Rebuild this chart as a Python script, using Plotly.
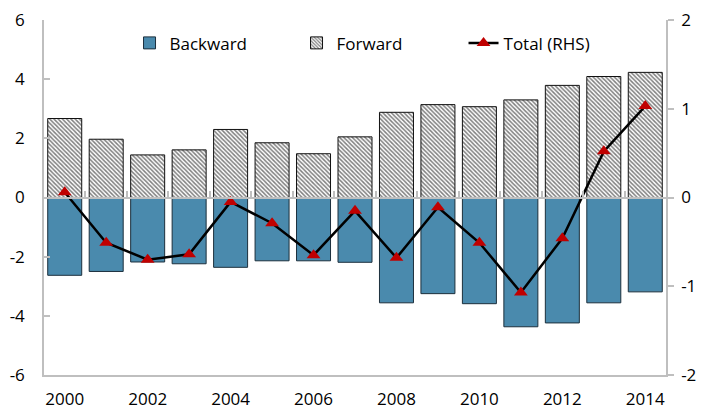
import plotly.graph_objects as go

years = list(range(2000, 2015))
backward = [-2.63, -2.50, -2.18, -2.24, -2.36, -2.14, -2.14, -2.19,
            -3.56, -3.25, -3.59, -4.37, -4.24, -3.56, -3.19]
forward = [2.67, 1.97, 1.44, 1.61, 2.30, 1.85, 1.48, 2.05,
           2.88, 3.14, 3.07, 3.30, 3.79, 4.09, 4.23]
total_rhs = [0.06, -0.51, -0.70, -0.64, -0.05, -0.29, -0.65, -0.15,
             -0.68, -0.11, -0.51, -1.07, -0.46, 0.52, 1.03]
x_tick_labels = [str(y) for y in range(2000, 2015, 2)]
left_ticks = [-6, -4, -2, 0, 2, 4, 6]
right_ticks = [-2, -1, 0, 1, 2]
boundary_ticks = [y + 0.5 for y in range(2000, 2014)]

FONT = "Open Sans"
GRAY = "#bfbfbf"

fig = go.Figure()
fig.add_trace(go.Bar(
    x=years, y=backward, name="Backward",
    marker=dict(color="#4a8aad", line=dict(color="#1c2f3c", width=1)),
))
fig.add_trace(go.Bar(
    x=years, y=forward, name="Forward",
    marker=dict(color="white", line=dict(color="#111111", width=1),
                pattern=dict(shape="\\", fgcolor="black", bgcolor="white",
                             size=3, solidity=0.5)),
))
fig.add_trace(go.Scatter(
    x=years, y=total_rhs, name="Total (RHS)", yaxis="y2",
    mode="lines+markers",
    line=dict(color="black", width=2.5),
    marker=dict(symbol="triangle-up", size=12, color="#c00000"),
))
# helper trace so the zero-line category axis is drawn
fig.add_trace(go.Scatter(x=[], y=[], xaxis="x2", yaxis="y",
                         showlegend=False, hoverinfo="skip"))

fig.update_layout(
    width=705, height=410,
    margin=dict(l=44, r=39, t=20, b=35, autoexpand=False),
    paper_bgcolor="white", plot_bgcolor="white",
    barmode="relative", bargap=0.18,
    font=dict(family=FONT, size=17, color="black"),
    showlegend=True,
    legend=dict(orientation="h", x=0.1375, y=0.985, xanchor="left", yanchor="top",
                font=dict(family=FONT, size=17, color="black"),
                bgcolor="rgba(0,0,0,0)", entrywidth=122, entrywidthmode="pixels",
                itemwidth=30, tracegroupgap=0),
    xaxis=dict(range=[1999.5, 2014.5], tickmode="array",
               tickvals=[int(t) for t in x_tick_labels], ticktext=x_tick_labels,
               showline=True, linecolor=GRAY, linewidth=1.5, ticks="",
               showgrid=False, zeroline=False, ticklabelstandoff=8, automargin=False),
    xaxis2=dict(range=[1999.5, 2014.5], overlaying="x", anchor="free", position=0.5,
                side="bottom", tickmode="array", tickvals=boundary_ticks,
                ticks="inside", ticklen=6, tickcolor=GRAY, tickwidth=1.5,
                showticklabels=False, showline=True, linecolor=GRAY, linewidth=1.5,
                showgrid=False, zeroline=False, automargin=False),
    yaxis=dict(range=[-6, 6], tickmode="array", tickvals=left_ticks,
               ticktext=[str(v) for v in left_ticks],
               showline=True, linecolor=GRAY,
               linewidth=1.5, ticks="inside", ticklen=6, tickcolor=GRAY, tickwidth=1.5,
               showgrid=False, zeroline=False, ticklabelstandoff=14, automargin=False),
    yaxis2=dict(range=[-2, 2], tickmode="array", tickvals=right_ticks,
                ticktext=[str(v) for v in right_ticks],
                overlaying="y", side="right",
                anchor="x", showline=True, linecolor=GRAY, linewidth=1.5,
                ticks="outside", ticklen=6, tickcolor=GRAY, tickwidth=1.5,
                showgrid=False, zeroline=False, ticklabelstandoff=4, automargin=False),
)

fig.write_html("out.html", config={"displayModeBar": False},
               post_script="document.body.style.margin='0';document.body.style.overflow='hidden';")
